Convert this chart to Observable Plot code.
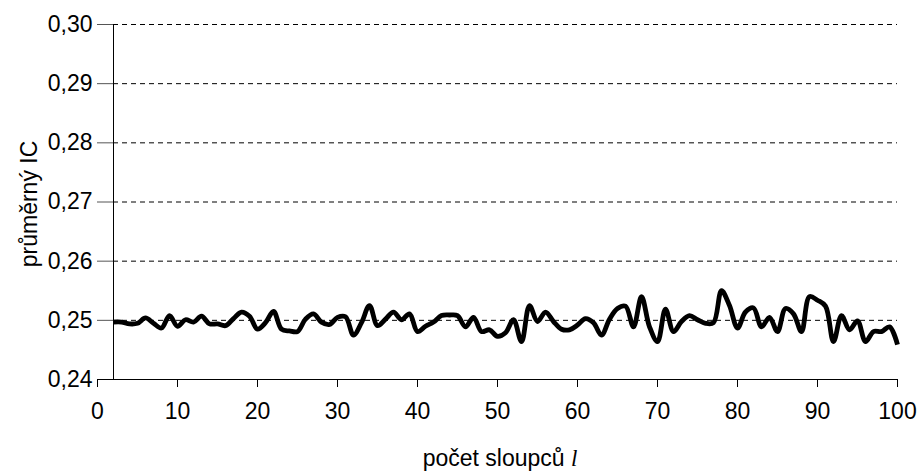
<!DOCTYPE html>
<html>
<head>
<meta charset="utf-8">
<script src="https://cdn.jsdelivr.net/npm/d3@7"></script>
<script src="https://cdn.jsdelivr.net/npm/@observablehq/plot@0.6"></script>
<style>
  html, body { margin: 0; padding: 0; background: #fff; }
</style>
</head>
<body>
<div id="chart"></div>
<script>
// Number of columns l
const columns = [
  2, 3, 4, 5, 6, 7, 8, 9, 10, 11, 12, 13, 14, 15, 16, 17, 18, 19, 20, 21,
  22, 23, 24, 25, 26, 27, 28, 29, 30, 31, 32, 33, 34, 35, 36, 37, 38, 39, 40, 41,
  42, 43, 44, 45, 46, 47, 48, 49, 50, 51, 52, 53, 54, 55, 56, 57, 58, 59, 60, 61,
  62, 63, 64, 65, 66, 67, 68, 69, 70, 71, 72, 73, 74, 75, 76, 77, 78, 79, 80, 81,
  82, 83, 84, 85, 86, 87, 88, 89, 90, 91, 92, 93, 94, 95, 96, 97, 98, 99, 100
];

// Average index of coincidence for each column count
const meanIC = [
  0.2497, 0.2497, 0.2494, 0.2495, 0.2504, 0.2495, 0.2487, 0.2508, 0.2490, 0.2501,
  0.2497, 0.2507, 0.2494, 0.2494, 0.2491, 0.2503, 0.2514, 0.2507, 0.2485, 0.2496,
  0.2515, 0.2485, 0.2482, 0.2481, 0.2502, 0.2511, 0.2497, 0.2493, 0.2505, 0.2506,
  0.2475, 0.2496, 0.2525, 0.2491, 0.2502, 0.2514, 0.2501, 0.2511, 0.2481, 0.2490,
  0.2497, 0.2508, 0.2509, 0.2508, 0.2489, 0.2505, 0.2481, 0.2484, 0.2473, 0.2479,
  0.2501, 0.2464, 0.2525, 0.2498, 0.2514, 0.2498, 0.2485, 0.2484, 0.2492, 0.2503,
  0.2496, 0.2475, 0.2502, 0.2520, 0.2524, 0.2489, 0.2540, 0.2489, 0.2464, 0.2519,
  0.2481, 0.2498, 0.2508, 0.2501, 0.2495, 0.2496, 0.2550, 0.2525, 0.2487, 0.2514,
  0.2521, 0.2489, 0.2505, 0.2481, 0.2520, 0.2511, 0.2481, 0.2540, 0.2534, 0.2524,
  0.2464, 0.2508, 0.2484, 0.2499, 0.2464, 0.2481, 0.2481, 0.2489, 0.2459
];

const xTicks = [0, 10, 20, 30, 40, 50, 60, 70, 80, 90, 100];
const yTicks = [0.24, 0.25, 0.26, 0.27, 0.28, 0.29, 0.30];
const gridLines = [0.25, 0.26, 0.27, 0.28, 0.29, 0.30];

const data = columns.map((l, i) => ({l, ic: meanIC[i]}));
const fmt = d => d.toFixed(2).replace(".", ",");

const chart = Plot.plot({
  width: 919,
  height: 471,
  marginLeft: 97,
  marginRight: 22,
  marginTop: 24,
  marginBottom: 92,
  style: {fontFamily: "'Liberation Sans', Arial, sans-serif", fontSize: "23px", color: "#000", background: "#fff"},
  x: {domain: [0, 100]},
  y: {domain: [0.24, 0.30]},
  marks: [
    // dashed horizontal grid
    Plot.ruleY(gridLines, {y: d => d, x1: 2, x2: 100, stroke: "#000", strokeWidth: 1, strokeDasharray: "5,4"}),
    // y tick marks to the left of the value axis
    Plot.ruleY(gridLines, {y: d => d, x1: 0, x2: 2, stroke: "#555", strokeWidth: 1}),
    // value axis line at the first column count
    Plot.ruleX([2], {y1: 0.24, y2: 0.30, stroke: "#000", strokeWidth: 1}),
    // category axis line
    Plot.ruleY([0.24], {x1: 0, x2: 100, stroke: "#000", strokeWidth: 1}),
    Plot.axisX({ticks: xTicks, tickSize: 8, tickPadding: 15, label: null, tickFormat: d => String(d)}),
    Plot.axisY({ticks: yTicks, tickSize: 0, tickPadding: 5, label: null, tickFormat: fmt}),
    Plot.line(data, {x: "l", y: "ic", stroke: "#000", strokeWidth: 4.8, curve: "catmull-rom", strokeLinejoin: "round", strokeLinecap: "butt"})
  ]
});

document.getElementById("chart").appendChild(chart);

// axis titles
const svg = d3.select(chart);
const xt = svg.append("text")
  .attr("x", 500).attr("y", 466)
  .attr("text-anchor", "middle")
  .attr("font-size", 23)
  .attr("fill", "#000")
  .text("počet sloupců ");
xt.append("tspan")
  .attr("font-family", "'Liberation Serif', 'Times New Roman', serif")
  .attr("font-style", "italic")
  .text("l");

svg.append("text")
  .attr("transform", "translate(37,204) rotate(-90)")
  .attr("text-anchor", "middle")
  .attr("font-size", 23)
  .attr("fill", "#000")
  .text("průměrný IC");
</script>
</body>
</html>
